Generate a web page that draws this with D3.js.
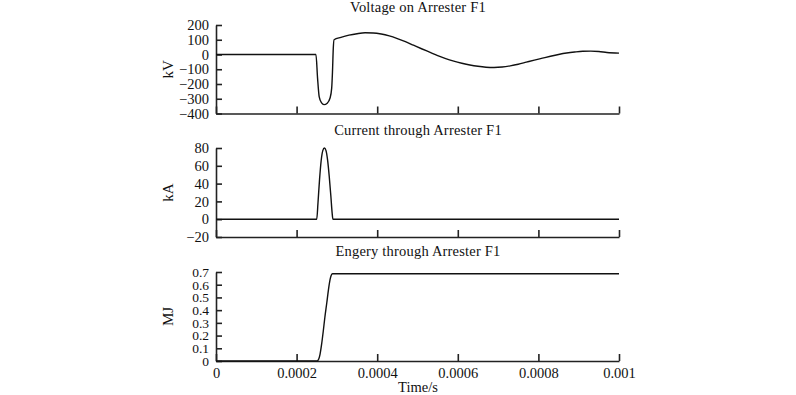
<!DOCTYPE html><html>
<head>
<meta charset="utf-8">
<style>
body { margin: 0; background-color: #ffffff; }
text { font-family: "Liberation Serif", "DejaVu Serif", serif; fill: #111; }
.curve { fill: none; stroke: #111; stroke-width: 1.4px; }
.axis path, .axis line { stroke: #222; stroke-width: 1.6px; }
</style>
</head>
<body>
<svg id="chart" width="796" height="395"></svg>
<script src="https://cdn.jsdelivr.net/npm/d3@7"></script>
<script>
// time axis (s)
var timeTicks = [0, 0.0002, 0.0004, 0.0006, 0.0008, 0.001];

// voltage on arrester F1 (kV)
var voltT = [0, 0.000248, 0.000252, 0.000256, 0.000262, 0.000268, 0.000276, 0.000283, 0.000287, 0.000289, 0.000291, 0.000293,
  0.00031, 0.00033, 0.00035, 0.00037, 0.00039, 0.00041, 0.00043, 0.00045, 0.00047, 0.00049, 0.00051, 0.00053, 0.00055,
  0.00057, 0.00059, 0.00061, 0.00063, 0.00065, 0.00067, 0.00069, 0.00071, 0.00073, 0.00075, 0.00077, 0.00079, 0.00081,
  0.00083, 0.00085, 0.00087, 0.00089, 0.00091, 0.00093, 0.00095, 0.00097, 0.001];
var voltV = [0, 0, -160, -285, -328, -340, -330, -295, -230, -120, 40, 100,
  116, 131, 141, 147, 146, 139, 126, 108, 87, 63, 39, 16, -7,
  -28, -45, -59, -71, -80, -86, -88, -85, -77, -66, -52, -38, -25,
  -12, 0, 10, 17, 22, 23, 20, 14, 9];
var voltTicks = [-400, -300, -200, -100, 0, 100, 200];

// current through arrester F1 (kA)
var currT = [0, 0.00025, 0.000253, 0.000257, 0.000261, 0.000265, 0.000269, 0.000273, 0.000277, 0.000281, 0.000285, 0.000288, 0.00029, 0.001];
var currA = [0, 0, 18, 45, 66, 77, 80, 77, 66, 48, 26, 8, 0, 0];
var currTicks = [-20, 0, 20, 40, 60, 80];

// energy through arrester F1 (MJ)
var enerT = [0, 0.000251, 0.000255, 0.000258, 0.000262, 0.000266, 0.00027, 0.000275, 0.000279, 0.000283, 0.000286, 0.000289, 0.001];
var enerE = [0, 0, 0.015, 0.05, 0.13, 0.23, 0.34, 0.46, 0.56, 0.64, 0.675, 0.686, 0.686];
var enerTicks = [0, 0.1, 0.2, 0.3, 0.4, 0.5, 0.6, 0.7];

var svg = d3.select("#chart");
var x = d3.scaleLinear().domain([0, 0.001]).range([216, 619]);

var panels = [
  { title: "Voltage on Arrester F1", unit: "kV", t: voltT, v: voltV, ticks: voltTicks, dom: [-400, 200], top: 25, bot: 113.5, ty: 12 },
  { title: "Current through Arrester F1", unit: "kA", t: currT, v: currA, ticks: currTicks, dom: [-20, 80], top: 148, bot: 237, ty: 135 },
  { title: "Engery through Arrester F1", unit: "MJ", t: enerT, v: enerE, ticks: enerTicks, dom: [0, 0.7], top: 272, bot: 361, ty: 256 }
];

panels.forEach(function(p, i) {
  var y = d3.scaleLinear().domain(p.dom).range([p.bot, p.top]);
  var g = svg.append("g");

  var xa = d3.axisBottom(x).tickValues(timeTicks).tickSizeInner(-7).tickSizeOuter(0).tickPadding(7)
    .tickFormat(i == 2 ? (d => String(d)) : "");
  g.append("g").attr("class", "axis").attr("transform", "translate(0," + p.bot + ")").call(xa)
    .selectAll("text").style("font-size", "14.5px");

  var ya = d3.axisLeft(y).tickValues(p.ticks).tickSizeInner(-6).tickSizeOuter(0).tickPadding(7)
    .tickFormat(d => d3.format("~")(d).replace("-", "\u2212"));
  g.append("g").attr("class", "axis").attr("transform", "translate(216,0)").call(ya)
    .selectAll("text").style("font-size", i == 2 ? "13.5px" : "14.5px");
  g.selectAll(".axis text").style("fill", "#111");

  var pts = p.t.map((t, k) => [t, p.v[k]]);
  g.append("path").attr("class", "curve")
    .attr("d", d3.line().x(d => x(d[0])).y(d => y(d[1])).curve(d3.curveMonotoneX)(pts));

  g.append("text").attr("x", 418).attr("y", p.ty).attr("text-anchor", "middle")
    .style("font-size", "14.5px").style("letter-spacing", "0.2px").text(p.title);

  g.append("text").attr("transform", "translate(173," + ((p.top + p.bot) / 2) + ") rotate(-90)")
    .attr("text-anchor", "middle").style("font-size", "15px").text(p.unit);
});

svg.append("text").attr("x", 418).attr("y", 392).attr("text-anchor", "middle")
  .style("font-size", "14.5px").text("Time/s");
</script>
</body>
</html>
